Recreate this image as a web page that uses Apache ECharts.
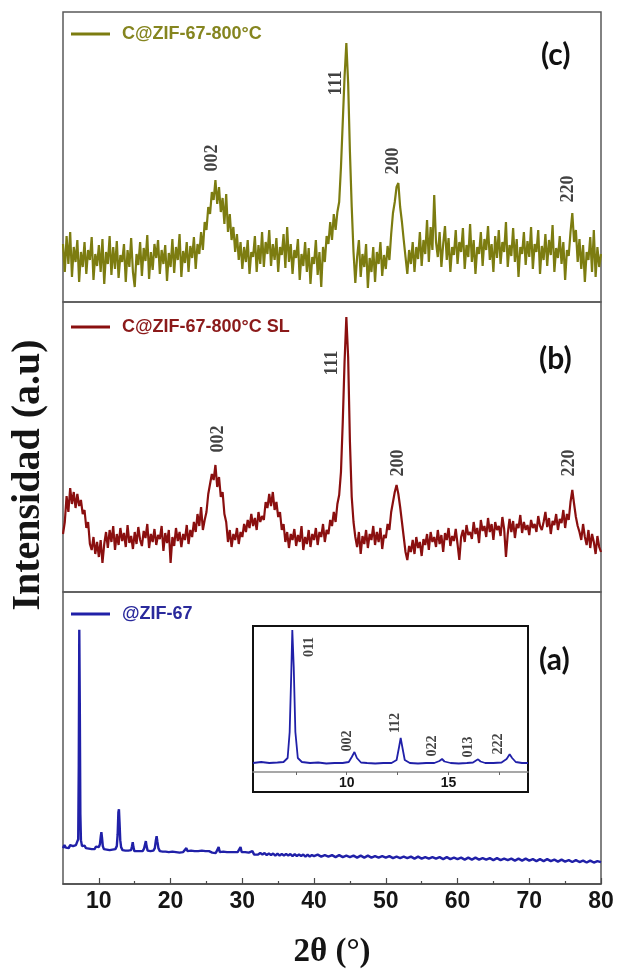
<!DOCTYPE html>
<html><head><meta charset="utf-8">
<script src="https://cdn.jsdelivr.net/npm/echarts@6/dist/echarts.min.js"></script>
<style>html,body{margin:0;padding:0;background:#fff}#chart{width:618px;height:970px}</style>
</head><body><div id="chart"></div>
<script>
// ---- sampling grid of the two noisy patterns (2θ start and step, degrees)
const xStart = 5, xStep = 0.25;

// (c) C@ZIF-67-800°C intensities, 5.00° .. 80.00° every 0.25°
const seriesC = [
  58, 30, 66, 38, 70, 25, 55, 40, 62, 20, 50, 35, 60, 28, 52, 42, 65, 22, 48, 36,
  57, 30, 63, 18, 50, 38, 66, 27, 55, 33, 61, 24, 47, 40, 58, 20, 52, 35, 64, 30,
  15, 48, 37, 60, 26, 54, 41, 67, 23, 50, 32, 58, 44, 62, 28, 52, 38, 57, 21, 49,
  35, 63, 29, 55, 42, 68, 25, 51, 39, 60, 30, 56, 44, 65, 33, 58, 48, 70, 52, 80,
  72, 95, 88, 110, 102, 122, 98, 115, 90, 104, 78, 108, 70, 88, 62, 75, 50, 68, 42, 60,
  33, 55, 40, 62, 28, 50, 45, 66, 30, 57, 38, 70, 35, 60, 48, 72, 36, 58, 42, 64,
  30, 55, 47, 68, 34, 75, 40, 58, 28, 52, 44, 63, 22, 48, 36, 60, 30, 54, 18, 45,
  38, 62, 27, 50, 15, 55, 40, 66, 58, 80, 62, 88, 72, 90, 100, 135, 180, 225, 259, 219,
  150, 95, 50, 19, 45, 62, 25, 48, 35, 58, 14, 44, 30, 55, 20, 50, 38, 60, 26, 47,
  33, 56, 42, 68, 89, 100, 115, 119, 95, 80, 62, 45, 28, 52, 38, 60, 30, 55, 43, 70,
  36, 62, 48, 82, 40, 75, 52, 107, 60, 45, 70, 35, 58, 76, 42, 64, 30, 55, 47, 72,
  38, 60, 50, 74, 33, 57, 45, 78, 40, 62, 28, 55, 48, 70, 36, 63, 52, 76, 42, 58,
  30, 66, 44, 72, 38, 60, 50, 80, 35, 57, 46, 74, 40, 63, 25, 55, 48, 70, 37, 61,
  45, 75, 33, 58, 50, 72, 28, 56, 42, 68, 36, 62, 47, 77, 30, 54, 44, 66, 38, 60,
  22, 52, 46, 70, 89, 60, 72, 40, 63, 33, 57, 20, 50, 42, 65, 30, 72, 25, 55, 35,
  48
];

// (b) C@ZIF-67-800°C SL intensities, 5.00° .. 80.00° every 0.25°
const seriesB = [
  58, 70, 96, 80, 104, 88, 100, 84, 98, 86, 92, 78, 82, 64, 70, 48, 42, 55, 38, 50,
  35, 52, 29, 48, 60, 44, 62, 50, 66, 42, 58, 47, 64, 51, 59, 45, 67, 49, 56, 43,
  60, 48, 65, 52, 46, 61, 54, 68, 44, 58, 50, 63, 47, 57, 53, 66, 41, 59, 49, 62,
  29, 55, 46, 64, 51, 60, 45, 58, 52, 67, 48, 62, 55, 70, 60, 78, 66, 85, 62, 72,
  80, 98, 108, 118, 112, 127, 105, 115, 95, 100, 78, 70, 50, 62, 45, 58, 52, 64, 48, 60,
  55, 68, 60, 72, 64, 78, 66, 74, 62, 80, 70, 76, 72, 90, 84, 98, 86, 100, 82, 90,
  75, 80, 62, 68, 50, 60, 44, 58, 52, 63, 46, 57, 50, 66, 42, 55, 48, 62, 45, 58,
  52, 64, 47, 60, 55, 68, 50, 62, 58, 72, 66, 80, 70, 88, 97, 120, 170, 230, 275, 235,
  150, 95, 70, 55, 45, 60, 38, 56, 48, 62, 44, 58, 52, 66, 47, 60, 50, 64, 43, 57,
  54, 68, 62, 80, 90, 100, 107, 98, 85, 70, 55, 40, 32, 46, 40, 52, 38, 55, 44, 50,
  36, 53, 47, 58, 42, 60, 50, 55, 45, 62, 48, 57, 40, 59, 52, 64, 46, 56, 51, 63,
  48, 32, 55, 62, 50, 67, 57, 60, 53, 70, 58, 64, 49, 72, 61, 66, 55, 74, 60, 68,
  52, 70, 62, 66, 56, 75, 63, 35, 58, 73, 60, 71, 54, 68, 64, 77, 59, 70, 62, 67,
  57, 72, 64, 68, 60, 76, 66, 62, 70, 80, 65, 74, 58, 71, 67, 78, 62, 73, 69, 82,
  64, 78, 72, 90, 102, 88, 75, 66, 60, 52, 68, 55, 47, 62, 44, 58, 50, 38, 56, 45,
  40
];

// (a) @ZIF-67 pattern, [2θ, intensity]
const seriesA = [
  [5,36],[5.2,39],[5.4,36.5],[5.6,38.5],[5.8,36],[6.0,39],[6.2,37],[6.4,38],[6.6,36.5],[6.8,39],
  [7.0,38],[7.12,45],[7.2,120],[7.27,255],[7.34,180],[7.42,70],[7.5,44],[7.65,38],[7.8,36],[8.0,38.5],
  [8.2,36],[8.4,38],[8.6,35.5],[8.8,37.5],[9.0,35],[9.2,37],[9.4,35],[9.6,37.5],[9.8,35.5],[10.0,37],
  [10.15,40],[10.27,48],[10.35,52],[10.43,47],[10.55,38],[10.7,35],[10.9,37],[11.1,34.5],[11.3,36.5],[11.5,34],
  [11.7,36],[11.9,34.5],[12.1,36.5],[12.3,35],[12.5,38],[12.62,50],[12.72,72],[12.8,75],[12.88,62],[12.98,44],
  [13.1,37],[13.3,34],[13.5,36],[13.7,33.5],[13.9,35.5],[14.1,33.5],[14.3,35],[14.5,34],[14.62,38],[14.72,42],
  [14.82,37],[14.95,33],[15.1,35],[15.3,33],[15.5,35],[15.7,33],[15.9,34.5],[16.1,33],[16.3,35.5],[16.45,40],
  [16.55,43],[16.65,38],[16.8,33.5],[17.0,35],[17.2,33],[17.4,35],[17.6,33.5],[17.8,36],[17.95,44],[18.05,48],
  [18.15,43],[18.3,36],[18.5,33],[18.7,34.5],[18.9,32.5],[19.1,34.5],[19.3,32.5],[19.5,34],[19.75,32],[20.0,34],
  [20.25,32.5],[20.5,34],[20.75,32],[21.0,33.5],[21.25,31.5],[21.5,33.5],[21.75,32],[22.0,33.5],[22.2,36],[22.35,33],
  [22.6,31.5],[22.85,33.5],[23.1,31.5],[23.35,33],[23.6,31],[23.85,33],[24.1,31.5],[24.35,33.5],[24.6,31.5],[24.85,33],
  [25.1,31],[25.35,33],[25.6,35],[25.8,31.5],[26.05,33],[26.3,31],[26.55,32.5],[26.7,37],[26.85,32],[27.1,30.5],
  [27.35,32.5],[27.6,30.5],[27.85,32],[28.1,30.5],[28.35,32],[28.6,30],[28.85,32],[29.1,30.5],[29.35,32],[29.6,34],
  [29.75,37],[29.9,32],[30.15,30],[30.4,32],[30.65,30],[30.9,31.5],[31.15,29.5],[31.4,33],[31.65,29.5],[31.9,31],
  [32.2,29.5],[32.5,31],[32.8,29.5],[33.1,31],[33.4,29],[33.7,30.5],[34.0,29],[34.3,30.5],[34.6,28.5],[34.9,30.5],
  [35.2,28.5],[35.5,30],[35.8,28.5],[36.1,30],[36.4,28.5],[36.7,30],[37.0,28],[37.3,30],[37.6,28],[37.9,29.5],
  [38.2,28],[38.5,29.5],[38.8,27.5],[39.1,29.5],[39.4,27.5],[39.7,29],[40.0,28],[40.5,29.5],[41,27.5],[41.5,29],
  [42,27.5],[42.5,29],[43,27],[43.5,29],[44,27],[44.5,28.5],[45,27],[45.5,28.5],[46,26.5],[46.5,28.5],
  [47,26.5],[47.5,28.5],[48,26.5],[48.5,28],[49,26.5],[49.5,28],[50,26.5],[50.5,28],[51,26],[51.5,27.5],
  [52,26],[52.5,27.5],[53,26],[53.5,27.5],[54,25.5],[54.5,27.5],[55,25.5],[55.5,27],[56,25.5],[56.5,27],
  [57,25.5],[57.5,27],[58,25],[58.5,27],[59,25],[59.5,26.5],[60,25],[60.5,26.5],[61,24.5],[61.5,26.5],
  [62,24.5],[62.5,26.5],[63,24.5],[63.5,26],[64,24.5],[64.5,26],[65,24],[65.5,26],[66,24],[66.5,25.5],
  [67,24],[67.5,25.5],[68,23.5],[68.5,25.5],[69,23.5],[69.5,25.5],[70,23.5],[70.5,25],[71,23],[71.5,25],
  [72,23],[72.5,25],[73,23],[73.5,24.5],[74,22.5],[74.5,24.5],[75,22.5],[75.5,24],[76,22],[76.5,24],
  [77,22],[77.5,23.5],[78,21.5],[78.5,23.5],[79,21.5],[79.5,23],[80,22]
];

// inset of (a): low-angle region, [2θ, intensity]
const insetA = [
  [5.4,9],[5.8,10],[6.2,9],[6.6,9.5],[6.9,10],[7.1,14],[7.2,40],[7.28,100],[7.33,142],[7.4,105],
  [7.48,40],[7.6,14],[7.8,10],[8.2,9],[8.6,9.5],[9.0,8.5],[9.4,9],[9.8,9],[10.1,10],[10.25,15],
  [10.38,20],[10.5,14],[10.7,9.5],[11.0,9],[11.4,8.5],[11.8,9],[12.2,9],[12.45,12],[12.58,26],[12.65,34],
  [12.73,25],[12.85,12],[13.1,9],[13.5,8.5],[13.9,9],[14.3,9],[14.55,11],[14.68,13],[14.8,10.5],[15.1,9],
  [15.5,8.5],[15.9,9],[16.2,9.5],[16.35,11.5],[16.45,12.7],[16.57,10.5],[16.8,9],[17.2,9],[17.6,9.5],[17.85,13],
  [18.0,17.7],[18.12,14],[18.3,10],[18.6,9],[18.9,9]
];

// Miller-index annotations: [label, 2θ, intensity]
const peaksC = [['002', 25.75, 144], ['111', 43.1, 219], ['200', 51.05, 141], ['220', 75.4, 113]];
const peaksB = [['002', 26.7, 153], ['111', 42.5, 229], ['200', 51.75, 129], ['220', 75.65, 129]];
const peaksInset = [['011', 8.15, 125], ['002', 10.04, 31], ['112', 12.41, 49], ['022', 14.23, 26], ['013', 15.97, 25], ['222', 17.43, 28]];

// tick values
const xMajorTicks = [10, 20, 30, 40, 50, 60, 70, 80];
const xMinorTicks = [15, 25, 35, 45, 55, 65, 75];
const insetTicks = [7.5, 10, 12.5, 15, 17.5];
const insetTickLabels = [10, 15];

const nameC = 'C@ZIF-67-800°C', nameB = 'C@ZIF-67-800°C SL', nameA = '@ZIF-67';
const colC = '#7c7c10', colB = '#8a0f0f', colA = '#2020a8';

const toPairs = arr => arr.map((v, i) => [xStart + i * xStep, v]);

const frame = { show: true, borderColor: '#5a5a5a', borderWidth: 1.5, backgroundColor: 'transparent' };
const serif = '"Liberation Serif", "Times New Roman", serif';
const sans = '"Liberation Sans", Arial, sans-serif';

function labelSeries(list, xi, yi, size) {
  return {
    type: 'scatter', xAxisIndex: xi, yAxisIndex: yi, symbolSize: 0, silent: true, z: 5,
    data: list.map(p => ({ name: p[0], value: [p[1], p[2]] })),
    label: { show: true, position: 'inside', rotate: 90, formatter: '{b}',
      fontFamily: serif, fontWeight: 'bold', fontSize: size, color: '#111' }
  };
}
const hidden = { show: false };

const chart = echarts.init(document.getElementById('chart'), null, { renderer: 'canvas' });
chart.setOption({
  animation: false,
  backgroundColor: '#fff',
  grid: [
    Object.assign({ left: 63, right: 17, top: 12, height: 290 }, frame),
    Object.assign({ left: 63, right: 17, top: 302, height: 290 }, frame),
    Object.assign({ left: 63, right: 17, top: 592, height: 293 }, frame),
    { left: 253, width: 275, top: 626, height: 146, show: false },
    { left: 253, width: 275, top: 626, height: 166, show: true, borderColor: '#111', borderWidth: 2 }
  ],
  xAxis: [
    { type: 'value', gridIndex: 0, min: 5, max: 80, show: false },
    { type: 'value', gridIndex: 1, min: 5, max: 80, show: false },
    { type: 'value', gridIndex: 2, min: 5, max: 80, position: 'bottom',
      axisLine: { show: true, lineStyle: { color: '#4a4a4a', width: 1.5 } },
      axisTick: { show: true, inside: true, length: 6, customValues: xMajorTicks, lineStyle: { color: '#4a4a4a', width: 1.2 } },
      axisLabel: { show: true, customValues: xMajorTicks, margin: 6, fontSize: 23, fontWeight: 'bold', fontFamily: sans, color: '#151515' },
      splitLine: hidden,
      name: '2θ (°)', nameLocation: 'middle', nameGap: 52,
      nameTextStyle: { fontSize: 33, fontWeight: 'bold', fontFamily: serif, color: '#151515' } },
    { type: 'value', gridIndex: 2, min: 5, max: 80, position: 'bottom',
      axisLine: hidden,
      axisTick: { show: true, inside: true, length: 3, customValues: xMinorTicks, lineStyle: { color: '#4a4a4a', width: 1.2 } },
      axisLabel: hidden, splitLine: hidden },
    { type: 'value', gridIndex: 3, min: 5.4, max: 18.9, position: 'bottom',
      axisLine: { show: true, lineStyle: { color: '#8a8a8a', width: 1.5 } },
      axisTick: { show: true, inside: false, length: 3, customValues: insetTicks, lineStyle: { color: '#666', width: 1 } },
      axisLabel: { show: true, customValues: insetTickLabels, margin: 4, fontSize: 14, fontWeight: 'bold', fontFamily: sans, color: '#151515' },
      splitLine: hidden },
    { type: 'value', gridIndex: 4, min: 0, max: 1, show: false }
  ],
  yAxis: [
    { type: 'value', gridIndex: 0, min: 0, max: 290, show: false },
    { type: 'value', gridIndex: 1, min: 0, max: 290, show: false },
    { type: 'value', gridIndex: 2, min: 0, max: 293, show: false },
    { type: 'value', gridIndex: 3, min: 0, max: 146, show: false },
    { type: 'value', gridIndex: 4, min: 0, max: 1, show: false }
  ],
  legend: [
    { data: [nameC], left: 66, top: 20, icon: 'rect', itemWidth: 39, itemHeight: 3, selectedMode: false,
      textStyle: { color: '#85851f', fontSize: 18, fontWeight: 'bold', fontFamily: sans, padding: [0, 0, 0, 7] } },
    { data: [nameB], left: 66, top: 313, icon: 'rect', itemWidth: 39, itemHeight: 3, selectedMode: false,
      textStyle: { color: '#8b1a1a', fontSize: 18, fontWeight: 'bold', fontFamily: sans, padding: [0, 0, 0, 7] } },
    { data: [nameA], left: 66, top: 600, icon: 'rect', itemWidth: 39, itemHeight: 3, selectedMode: false,
      textStyle: { color: '#2a2a9c', fontSize: 18, fontWeight: 'bold', fontFamily: sans, padding: [0, 0, 0, 7] } }
  ],
  title: [
    { text: '(c)', left: 541, top: 40, padding: 0, textStyle: { fontSize: 30, fontWeight: 'bold', fontFamily: 'Lato, "Open Sans", sans-serif', color: '#111' } },
    { text: '(b)', left: 539, top: 344, padding: 0, textStyle: { fontSize: 30, fontWeight: 'bold', fontFamily: 'Lato, "Open Sans", sans-serif', color: '#111' } },
    { text: '(a)', left: 539, top: 645, padding: 0, textStyle: { fontSize: 30, fontWeight: 'bold', fontFamily: 'Lato, "Open Sans", sans-serif', color: '#111' } }
  ],
  graphic: [
    { type: 'text', x: 29, y: 475, rotation: Math.PI / 2, silent: true,
      style: { text: 'Intensidad (a.u)', font: 'bold 40px "Liberation Serif"', fill: '#151515', align: 'center', verticalAlign: 'middle' } }
  ],
  series: [
    { type: 'line', name: nameC, xAxisIndex: 0, yAxisIndex: 0, data: toPairs(seriesC), showSymbol: false, symbol: 'none',
      silent: true, lineStyle: { color: colC, width: 2.2 }, itemStyle: { color: colC } },
    { type: 'line', name: nameB, xAxisIndex: 1, yAxisIndex: 1, data: toPairs(seriesB), showSymbol: false, symbol: 'none',
      silent: true, lineStyle: { color: colB, width: 2.2 }, itemStyle: { color: colB } },
    { type: 'line', name: nameA, xAxisIndex: 2, yAxisIndex: 2, data: seriesA, showSymbol: false, symbol: 'none',
      silent: true, lineStyle: { color: colA, width: 2.4 }, itemStyle: { color: colA } },
    { type: 'line', name: 'inset', xAxisIndex: 4, yAxisIndex: 3, data: insetA, showSymbol: false, symbol: 'none',
      silent: true, lineStyle: { color: colA, width: 1.8 }, itemStyle: { color: colA } },
    labelSeries(peaksC, 0, 0, 18),
    labelSeries(peaksB, 1, 1, 18),
    labelSeries(peaksInset, 4, 3, 14)
  ]
});
</script>
</body></html>
